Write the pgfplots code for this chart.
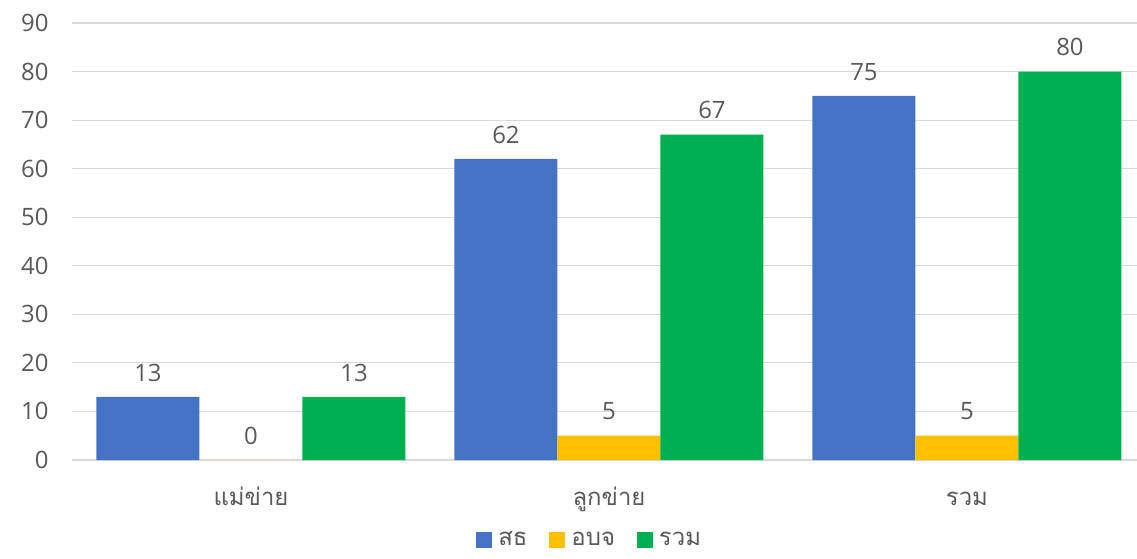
\documentclass[border=0pt]{standalone}
\usepackage{fontspec}
\setmainfont{Open Sans}
\newfontfamily\thai[Script=Thai]{Loma}
\usepackage{pgfplots}
\pgfplotsset{compat=1.18}
\definecolor{sblue}{HTML}{4472C4}
\definecolor{syellow}{HTML}{FFC000}
\definecolor{sgreen}{HTML}{00B050}
\definecolor{txt}{HTML}{595959}
\definecolor{grd}{HTML}{D9D9D9}
\begin{document}
\begin{tikzpicture}
\pgfplotsset{sq legend/.style={legend image code/.code={\fill[##1] (0bp,-8bp) rectangle (16bp,8bp);}}}
\begin{axis}[
  scale only axis, width=1074bp, height=437bp,
  ymin=0, ymax=90, ytick={0,10,...,90},
  xmin=-0.5, xmax=2.5, xtick={0,1,2},
  xticklabels={แม่ข่าย,ลูกข่าย,รวม},
  /pgf/number format/assume math mode=true,
  ybar=0pt, bar width=103bp,
  axis line style={draw=none},
  major tick length=0pt,
  ymajorgrids, grid style={grd, line width=1.2bp},
  tick label style={font=\fontsize{24}{28}\selectfont, text=txt},
  xticklabel style={font=\fontsize{24}{28}\selectfont\thai, anchor=base, yshift=-45bp},
  yticklabel style={xshift=-20bp},
  nodes near coords,
  nodes near coords style={font=\fontsize{24}{28}\selectfont, text=txt, yshift=12bp},
  legend columns=3,
  legend style={draw=none, at={(0.482,-0.182)}, anchor=center, inner sep=0pt,
    font=\fontsize{24}{28}\selectfont\thai, text=txt,
    /tikz/every odd column/.append style={column sep=4bp},
    /tikz/every even column/.append style={column sep=20bp}},
]
\addplot[fill=sblue, draw=none, sq legend] coordinates {(0,13) (1,62) (2,75)};
\addplot[fill=syellow, draw=none, sq legend] coordinates {(0,0) (1,5) (2,5)};
\addplot[fill=sgreen, draw=none, sq legend] coordinates {(0,13) (1,67) (2,80)};
\legend{สธ,อบจ,รวม}
\end{axis}
\pgfresetboundingbox
\path (current axis.south west) ++(-72bp,-99bp) rectangle ++(1137bp,559bp);
\end{tikzpicture}
\end{document}
